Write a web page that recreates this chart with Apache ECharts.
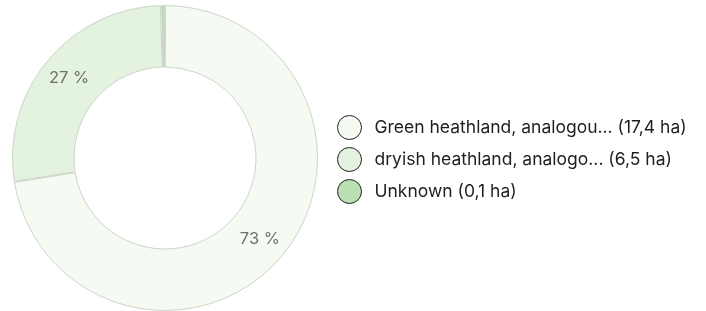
<!DOCTYPE html>
<html>
<head>
<meta charset="utf-8">
<script src="https://cdn.jsdelivr.net/npm/echarts@6/dist/echarts.min.js"></script>
<style>
  html, body { margin: 0; padding: 0; background: #fff; }
  #chart { width: 706px; height: 311px; }
</style>
</head>
<body>
<div id="chart"></div>
<script>
// chart data
const names = ['Green heathland, analogou...', 'dryish heathland, analogo...', 'Unknown']
const areas = [17.4, 6.5, 0.1]
const sliceColors = ['#f5faf2', '#e3f3df', '#b9dfb3']

const chart = echarts.init(document.getElementById('chart'))

const fmtHa = v => v.toFixed(1).replace('.', ',')

chart.setOption({
  backgroundColor: '#fff',
  textStyle: { fontFamily: 'Inter, sans-serif' },
  legend: {
    orient: 'vertical',
    left: 337,
    top: 115,
    padding: 0,
    itemWidth: 24,
    itemHeight: 24,
    itemGap: 7,
    icon: 'circle',
    itemStyle: { borderColor: '#222', borderWidth: 1 },
    textStyle: { fontSize: 17.5, color: '#1f1f1f', fontFamily: 'Inter, sans-serif', padding: [0, 0, 0, 8] },
    formatter: name => {
      const i = names.indexOf(name)
      return name + ' (' + fmtHa(areas[i]) + ' ha)'
    }
  },
  series: [{
    type: 'pie',
    center: [165, 158],
    radius: [91, 152.5],
    startAngle: 90,
    clockwise: true,
    padAngle: 0.45,
    minShowLabelAngle: 5,
    itemStyle: { borderColor: '#cdd5ca', borderWidth: 1 },
    label: {
      position: 'inside',
      fontSize: 16.5,
      color: '#6e6e6e',
      fontFamily: 'Inter, sans-serif',
      formatter: p => Math.round(p.percent) + ' %'
    },
    labelLine: { show: false },
    emphasis: { disabled: true },
    data: names.map((n, i) => ({
      name: n,
      value: areas[i],
      itemStyle: { color: sliceColors[i] }
    }))
  }]
})
</script>
</body>
</html>
